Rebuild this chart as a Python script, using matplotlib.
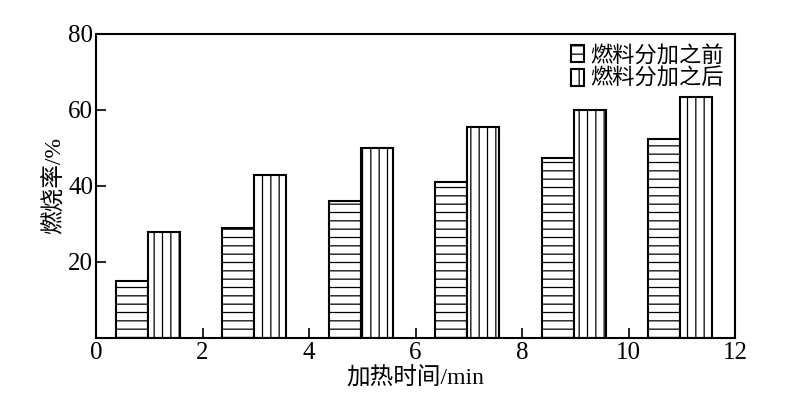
import matplotlib
matplotlib.use("Agg")
import matplotlib.pyplot as plt
import numpy as np

plt.rcParams['font.family'] = ['Liberation Serif', 'Noto Sans CJK SC']
plt.rcParams['hatch.linewidth'] = 0.9

# data
centers = [1, 3, 5, 7, 9, 11]
before = [15, 29, 36, 41, 47.5, 52.5]
after = [28, 43, 50, 55.5, 60, 63.5]
labels = ["燃料分加之前", "燃料分加之后"]
xticks = [0, 2, 4, 6, 8, 10, 12]
yticks = [20, 40, 60, 80]

width = 0.6
x = np.array(centers) - 0.03

fig = plt.figure(figsize=(8, 4), dpi=100)
ax = fig.add_axes([0.12, 0.155, 0.799, 0.76])

ax.bar(x - width / 2, before, width, facecolor="white", edgecolor="black",
       linewidth=1.5, hatch="--", label=labels[0])
ax.bar(x + width / 2, after, width, facecolor="white", edgecolor="black",
       linewidth=1.5, hatch="||", label=labels[1])

ax.set_xlim(0, 12)
ax.set_ylim(0, 80)
ax.set_xticks(xticks)
ax.set_yticks(yticks)
ax.tick_params(direction="in", length=7, width=1.2, labelsize=18)
ax.tick_params(axis="x", pad=3)
ax.tick_params(axis="y", pad=2)
for s in ax.spines.values():
    s.set_linewidth(1.5)

ax.set_xlabel("加热时间/min", fontsize=17, labelpad=2)
ax.set_ylabel("燃烧率/%", fontsize=17, labelpad=2)

leg = ax.legend(loc="upper right", frameon=False, fontsize=16,
                handlelength=0.6, handleheight=0.8, handletextpad=0.3,
                labelspacing=0.1, borderaxespad=0.1)

fig.savefig("out.png", dpi=100)
